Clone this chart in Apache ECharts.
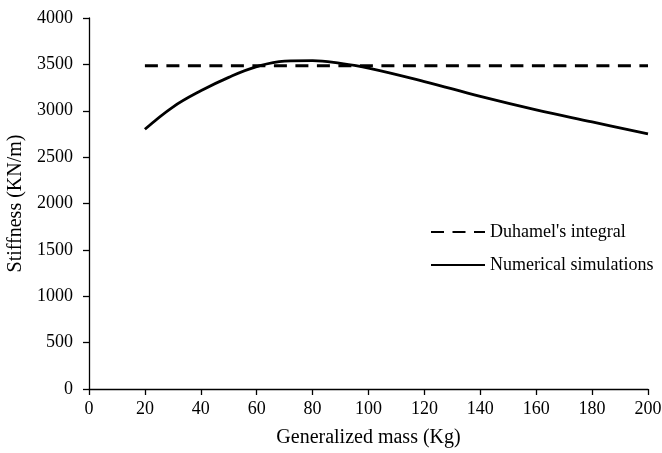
<!DOCTYPE html>
<html>
<head>
<meta charset="utf-8">
<script src="https://cdn.jsdelivr.net/npm/echarts@6/dist/echarts.min.js"></script>
<style>
  html, body { margin: 0; padding: 0; background: #fff; }
  #chart { width: 662px; height: 453px; }
</style>
</head>
<body>
<div id="chart"></div>
<script>
  // generalized mass (Kg)
  const massDuhamel = [20, 200]
  const stiffDuhamel = [3485, 3485]
  const massNumeric = [20, 30, 40, 50, 60, 70, 80, 90, 100, 120, 140, 160, 180, 200]
  const stiffNumeric = [2800, 3040, 3215, 3360, 3475, 3535, 3540, 3510, 3460, 3315, 3155, 3010, 2880, 2750]

  const pairs = (xs, ys) => xs.map((x, i) => [x, ys[i]])
  const font = 'Liberation Serif'

  const option = {
    backgroundColor: '#fff',
    animation: false,
    grid: {
      left: 89,
      right: 14,
      top: 18,
      bottom: 64,
      containLabel: false,
      outerBoundsMode: 'none'
    },
    legend: {
      orient: 'vertical',
      left: 425,
      top: 218,
      itemWidth: 54,
      itemHeight: 14,
      itemGap: 15,
      itemStyle: { opacity: 0 },
      textStyle: { fontFamily: font, fontSize: 18, color: '#000' },
      data: ["Duhamel's integral", 'Numerical simulations']
    },
    xAxis: {
      type: 'value',
      min: 0,
      max: 200,
      interval: 20,
      name: 'Generalized mass (Kg)',
      nameLocation: 'middle',
      nameGap: 39,
      nameTextStyle: { fontFamily: font, fontSize: 20, color: '#000' },
      axisLine: { lineStyle: { color: '#000', width: 1.3 } },
      axisTick: { show: true, inside: false, length: 6, lineStyle: { color: '#000', width: 1.3 } },
      axisLabel: { fontFamily: font, fontSize: 18, color: '#000', margin: 11 },
      splitLine: { show: false }
    },
    yAxis: {
      type: 'value',
      min: 0,
      max: 4000,
      interval: 500,
      name: 'Stiffness (KN/m)',
      nameLocation: 'middle',
      nameGap: 53,
      nameRotate: 90,
      nameTextStyle: { fontFamily: font, fontSize: 20, color: '#000' },
      axisLine: { show: true, lineStyle: { color: '#000', width: 1.3 } },
      axisTick: { show: true, inside: false, length: 6, lineStyle: { color: '#000', width: 1.3 } },
      axisLabel: { fontFamily: font, fontSize: 18, color: '#000', margin: 16, formatter: v => String(v) },
      splitLine: { show: false }
    },
    series: [
      {
        name: "Duhamel's integral",
        type: 'line',
        symbol: 'none',
        data: pairs(massDuhamel, stiffDuhamel),
        lineStyle: { color: '#000', width: 3, type: [13, 8.5] },
        itemStyle: { color: '#000' }
      },
      {
        name: 'Numerical simulations',
        type: 'line',
        symbol: 'none',
        smooth: 0.4,
        data: pairs(massNumeric, stiffNumeric),
        lineStyle: { color: '#000', width: 2.8 },
        itemStyle: { color: '#000' }
      }
    ]
  }

  const chart = echarts.init(document.getElementById('chart'))
  chart.setOption(option)
</script>
</body>
</html>
